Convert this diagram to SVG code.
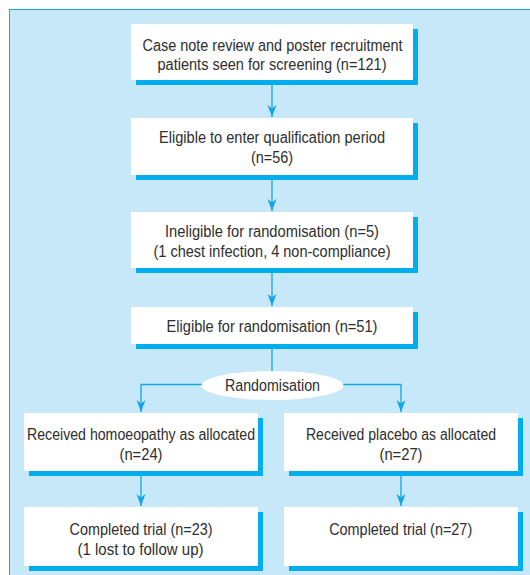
<svg xmlns="http://www.w3.org/2000/svg" width="530" height="575" viewBox="0 0 530 575">
<style>
.box{fill:#ffffff}
.sh{fill:#00aeef}
.t{font-family:"Liberation Sans",Arial,sans-serif;font-size:16px;fill:#2e2e2e;text-anchor:middle}
.c{fill:none;stroke:#14a6e2;stroke-width:1.3}
</style>
<defs>
<marker id="ah" viewBox="-12 -5 12 10" refX="0" refY="0" markerWidth="12" markerHeight="10" markerUnits="userSpaceOnUse" orient="auto">
<path d="M0,0 L-12,-4.5 L-8.5,0 L-12,4.5 Z" fill="#14a6e2"/>
</marker>
</defs>
<rect x="0" y="0" width="530" height="575" fill="#ffffff"/>
<rect x="9.5" y="9.5" width="540" height="590" fill="#c6e8f8" stroke="#1ba4dd" stroke-width="1"/>
<g id="connectors">
<path class="c" d="M272,80 V117" marker-end="url(#ah)"/>
<path class="c" d="M272,175 V211" marker-end="url(#ah)"/>
<path class="c" d="M272,268 V306" marker-end="url(#ah)"/>
<path class="c" d="M272,344 V372"/>
<path class="c" d="M202,384.5 H141 V412" marker-end="url(#ah)"/>
<path class="c" d="M343,384.5 H401 V412" marker-end="url(#ah)"/>
<path class="c" d="M141,471 V506" marker-end="url(#ah)"/>
<path class="c" d="M401,471 V506" marker-end="url(#ah)"/>
</g>
<g id="n1">
<rect class="sh" x="136" y="29" width="282" height="56"/>
<rect class="box" x="131" y="24" width="282" height="56"/>
<text class="t" x="272.5" y="51" textLength="260" lengthAdjust="spacingAndGlyphs">Case note review and poster recruitment</text>
<text class="t" x="272" y="70" textLength="229" lengthAdjust="spacingAndGlyphs">patients seen for screening (n=121)</text>
</g>
<g id="n2">
<rect class="sh" x="136" y="123" width="282" height="57"/>
<rect class="box" x="131" y="118" width="282" height="57"/>
<text class="t" x="272" y="143.3" textLength="226" lengthAdjust="spacingAndGlyphs">Eligible to enter qualification period</text>
<text class="t" x="272" y="163" textLength="42" lengthAdjust="spacingAndGlyphs">(n=56)</text>
</g>
<g id="n3">
<rect class="sh" x="136" y="217" width="282" height="56"/>
<rect class="box" x="131" y="212" width="282" height="56"/>
<text class="t" x="272" y="237.3" textLength="214" lengthAdjust="spacingAndGlyphs">Ineligible for randomisation (n=5)</text>
<text class="t" x="272" y="257.3" textLength="237" lengthAdjust="spacingAndGlyphs">(1 chest infection, 4 non-compliance)</text>
</g>
<g id="n4">
<rect class="sh" x="136" y="312" width="282" height="37"/>
<rect class="box" x="131" y="307" width="282" height="37"/>
<text class="t" x="272" y="331.5" textLength="211" lengthAdjust="spacingAndGlyphs">Eligible for randomisation (n=51)</text>
</g>
<g id="rand">
<ellipse cx="272.5" cy="385.5" rx="71" ry="14.5" fill="#ffffff"/>
<text class="t" x="272.5" y="391.2" textLength="95" lengthAdjust="spacingAndGlyphs">Randomisation</text>
</g>
<g id="n5">
<rect class="sh" x="29" y="418" width="234" height="58"/>
<rect class="box" x="24" y="413" width="234" height="58"/>
<text class="t" x="141" y="439.5" textLength="228" lengthAdjust="spacingAndGlyphs">Received homoeopathy as allocated</text>
<text class="t" x="141" y="460.3" textLength="43" lengthAdjust="spacingAndGlyphs">(n=24)</text>
</g>
<g id="n6">
<rect class="sh" x="289" y="418" width="234" height="58"/>
<rect class="box" x="284" y="413" width="234" height="58"/>
<text class="t" x="401" y="439.5" textLength="190" lengthAdjust="spacingAndGlyphs">Received placebo as allocated</text>
<text class="t" x="401" y="460.3" textLength="43" lengthAdjust="spacingAndGlyphs">(n=27)</text>
</g>
<g id="n7">
<rect class="sh" x="29" y="512" width="234" height="59"/>
<rect class="box" x="24" y="507" width="234" height="59"/>
<text class="t" x="141" y="534.8" textLength="143" lengthAdjust="spacingAndGlyphs">Completed trial (n=23)</text>
<text class="t" x="140.5" y="554.8" textLength="126" lengthAdjust="spacingAndGlyphs">(1 lost to follow up)</text>
</g>
<g id="n8">
<rect class="sh" x="289" y="512" width="234" height="59"/>
<rect class="box" x="284" y="507" width="234" height="59"/>
<text class="t" x="400.7" y="534.8" textLength="143" lengthAdjust="spacingAndGlyphs">Completed trial (n=27)</text>
</g>
</svg>
